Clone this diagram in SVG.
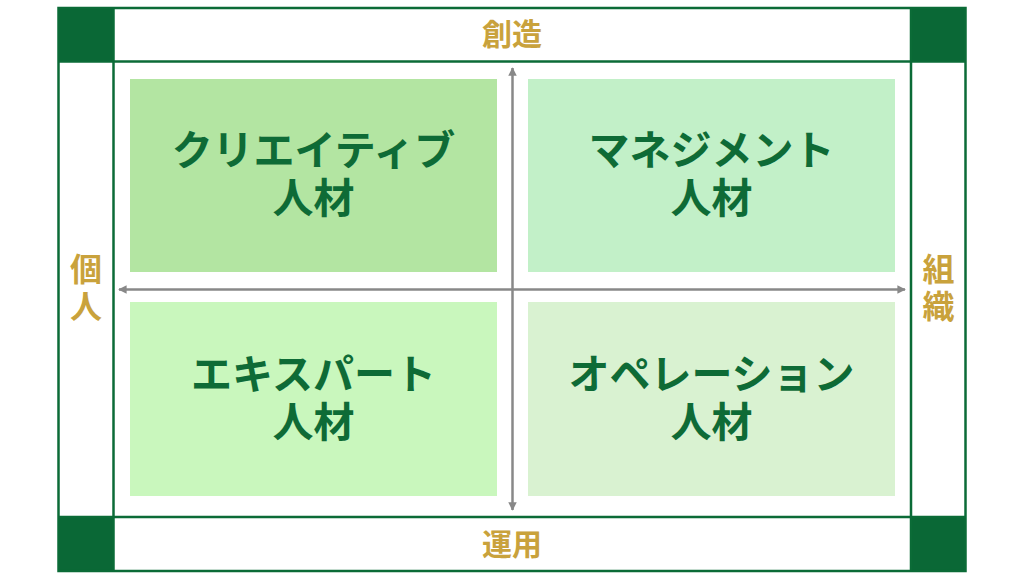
<svg xmlns="http://www.w3.org/2000/svg" width="1024" height="576" viewBox="0 0 1024 576">
  <style>
    .frame { fill: none; stroke: #0B6B37; stroke-width: 2.5; }
    .corner { fill: #0A6836; }
    .axis { stroke: #888888; stroke-width: 2.5; fill: none; }
    .label { font-family: "Noto Sans CJK JP", "Noto Sans", sans-serif; font-weight: 700; font-size: 41px; fill: #0E6B36; text-anchor: middle; }
    .dim { font-family: "Noto Sans CJK JP", "Noto Sans", sans-serif; font-weight: 700; font-size: 30px; fill: #C9A23C; text-anchor: middle; }
    .side { font-size: 32px; }
  </style>
  <defs>
    <marker id="arr" viewBox="0 0 10 10" refX="9" refY="5" markerWidth="3.4" markerHeight="3.4" orient="auto-start-reverse" markerUnits="strokeWidth">
      <path d="M0,0 L10,5 L0,10 z" fill="#888888"/>
    </marker>
  </defs>
  <rect width="1024" height="576" fill="#ffffff"/>

  <g id="frame">
    <rect class="corner" x="58" y="7" width="56" height="55"/>
    <rect class="corner" x="911" y="7" width="55" height="55"/>
    <rect class="corner" x="58" y="517" width="56" height="55"/>
    <rect class="corner" x="911" y="517" width="55" height="55"/>
    <rect class="frame" x="58.5" y="8" width="907" height="563"/>
    <line class="frame" x1="58" y1="61.5" x2="966" y2="61.5"/>
    <line class="frame" x1="58" y1="517" x2="966" y2="517"/>
    <line class="frame" x1="113.5" y1="7" x2="113.5" y2="572"/>
    <line class="frame" x1="911" y1="7" x2="911" y2="572"/>
  </g>

  <g id="connectors">
    <line class="axis" x1="512.5" y1="68" x2="512.5" y2="510" marker-start="url(#arr)" marker-end="url(#arr)"/>
    <line class="axis" x1="119" y1="289.5" x2="905" y2="289.5" marker-start="url(#arr)" marker-end="url(#arr)"/>
  </g>

  <g id="creative">
    <rect x="130" y="79" width="367" height="193" fill="#B3E5A2"/>
    <text class="label"><tspan x="313.5" y="165">クリエイティブ</tspan><tspan x="313.5" y="213">人材</tspan></text>
  </g>
  <g id="management">
    <rect x="528" y="79" width="367" height="193" fill="#C2F0C8"/>
    <text class="label"><tspan x="711.5" y="165">マネジメント</tspan><tspan x="711.5" y="213">人材</tspan></text>
  </g>
  <g id="expert">
    <rect x="130" y="302" width="367" height="194" fill="#C9F7BD"/>
    <text class="label"><tspan x="313.5" y="389">エキスパート</tspan><tspan x="313.5" y="437">人材</tspan></text>
  </g>
  <g id="operation">
    <rect x="528" y="302" width="367" height="194" fill="#D9F2D1"/>
    <text class="label"><tspan x="711.5" y="389">オペレーション</tspan><tspan x="711.5" y="437">人材</tspan></text>
  </g>

  <g id="top-label"><text class="dim" x="512" y="45">創造</text></g>
  <g id="bottom-label"><text class="dim" x="512" y="555">運用</text></g>
  <g id="left-label">
    <text class="dim side"><tspan x="86" y="281">個</tspan><tspan x="86" y="318">人</tspan></text>
  </g>
  <g id="right-label">
    <text class="dim side"><tspan x="938.5" y="281">組</tspan><tspan x="938.5" y="318">織</tspan></text>
  </g>
</svg>
